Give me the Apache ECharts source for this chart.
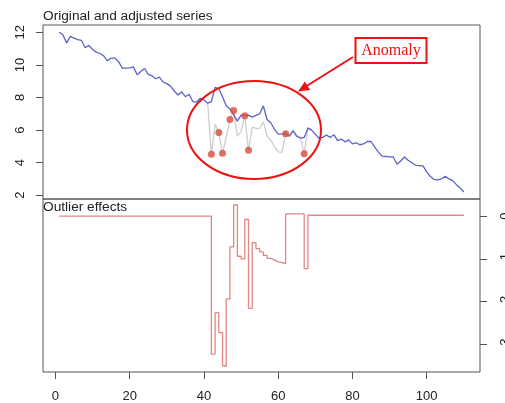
<!DOCTYPE html>
<html>
<head>
<meta charset="utf-8">
<script src="https://cdn.jsdelivr.net/npm/echarts@6.0.0/dist/echarts.min.js"></script>
<style>
html, body { margin: 0; padding: 0; background: #fff; }
#chart { width: 505px; height: 403px; }
</style>
</head>
<body>
<div id="chart"></div>
<script>
// adjusted series, t = 1..110
var adjusted = [
  12.0, 11.85, 11.35, 11.75, 11.65, 11.55, 11.5, 11.05, 11.2, 10.95,
  10.78, 10.7, 10.55, 10.25, 10.42, 10.42, 10.2, 9.8, 9.8, 9.82,
  9.88, 9.4, 9.6, 9.78, 9.42, 9.33, 9.15, 9.25, 8.95, 8.85,
  8.7, 8.4, 8.15, 8.35, 8.05, 8.2, 7.75, 7.72, 7.95, 7.85,
  7.65, 7.75, 8.62, 8.55, 8.05, 7.5, 7.3, 6.95, 6.55, 6.92,
  6.9, 6.92, 6.8, 6.9, 7.0, 7.48, 6.65, 6.45, 6.05, 5.75,
  5.75, 5.8, 5.62, 5.95, 5.62, 5.5, 5.55, 6.12, 6.0, 5.75,
  5.5, 5.55, 5.7, 5.55, 5.72, 5.35, 5.45, 5.28, 5.4, 5.15,
  5.22, 5.1, 5.15, 5.3, 5.3, 4.95, 4.65, 4.4, 4.38, 4.35,
  4.35, 3.9, 4.1, 4.35, 4.15, 4.0, 3.84, 3.82, 3.8, 3.43,
  3.15, 2.97, 2.95, 3.0, 3.17, 3.0, 2.9, 2.65, 2.45, 2.2
];
// original series where it differs from the adjusted one, t = 41..69
var originalStart = 41;
var original = [
  7.65, 4.52, 6.35, 5.85, 4.58, 5.56, 6.65, 7.2, 5.62, 5.92,
  6.88, 4.76, 6.18, 6.1, 6.1, 6.5, 5.62, 5.38, 4.98, 4.66,
  4.64, 5.78, 5.67, 6.0, 5.67, 5.55, 4.55, 6.15, 6.0
];
var outlierTimes = [42, 44, 45, 47, 48, 51, 52, 62, 67];
// outlier effects, t = 1..110
var effects = [
  0, 0, 0, 0, 0, 0, 0, 0, 0, 0,
  0, 0, 0, 0, 0, 0, 0, 0, 0, 0,
  0, 0, 0, 0, 0, 0, 0, 0, 0, 0,
  0, 0, 0, 0, 0, 0, 0, 0, 0, 0,
  0, -3.23, -2.26, -2.73, -3.51, -1.94, -0.72, 0.26, -0.94, -1.0,
  -0.08, -2.16, -0.62, -0.76, -0.84, -0.92, -0.99, -1.03, -1.07, -1.09,
  -1.11, 0.05, 0.05, 0.05, 0.05, 0.05, -1.23, 0.02, 0.02, 0.02,
  0.02, 0.02, 0.02, 0.02, 0.02, 0.02, 0.02, 0.02, 0.02, 0.02,
  0.02, 0.02, 0.02, 0.02, 0.02, 0.02, 0.02, 0.02, 0.02, 0.02,
  0.02, 0.02, 0.02, 0.02, 0.02, 0.02, 0.02, 0.02, 0.02, 0.02,
  0.02, 0.02, 0.02, 0.02, 0.02, 0.02, 0.02, 0.02, 0.02, 0.02
];
var xTicks = [0, 20, 40, 60, 80, 100];
var yTicksTop = [2, 4, 6, 8, 10, 12];
var yTicksBottom = [0, -1, -2, -3];

var font = 'Liberation Sans';
var labelColor = '#222';

var adjustedData = adjusted.map(function (v, i) { return [i + 1, v]; });
var originalData = original.map(function (v, i) { return [originalStart + i, v]; });
var outlierData = outlierTimes.map(function (t) { return [t, original[t - originalStart]]; });
var effectsData = effects.map(function (v, i) { return [i + 1, v]; });

var myChart = echarts.init(document.getElementById('chart'));

var option = {
  animation: false,
  backgroundColor: '#fff',
  title: [
    {
      text: 'Original and adjusted series',
      left: 43, top: 9, padding: 0,
      textStyle: { fontSize: 13.7, fontWeight: 'normal', color: labelColor, fontFamily: font }
    },
    {
      text: 'Outlier effects',
      left: 43, top: 200, padding: 0,
      textStyle: { fontSize: 13.7, fontWeight: 'normal', color: labelColor, fontFamily: font }
    }
  ],
  grid: [
    { left: 43, top: 25, width: 437, height: 174, outerBoundsMode: 'none', containLabel: false,
      show: true, borderColor: '#555', borderWidth: 1, backgroundColor: 'transparent' },
    { left: 43, top: 199, width: 437, height: 173, outerBoundsMode: 'none', containLabel: false,
      show: true, borderColor: '#555', borderWidth: 1, backgroundColor: 'transparent' }
  ],
  xAxis: [
    {
      gridIndex: 0, type: 'value', min: -3.36, max: 114.36, position: 'bottom',
      axisLine: { show: false, onZero: false }, axisTick: { show: false },
      axisLabel: { show: false }, splitLine: { show: false }
    },
    {
      gridIndex: 1, type: 'value', min: -3.36, max: 114.36, position: 'bottom',
      axisLine: { show: false, onZero: false },
      axisTick: { show: true, customValues: xTicks, length: 7, lineStyle: { color: '#555' } },
      axisLabel: { customValues: xTicks, margin: 18, fontSize: 13, color: labelColor, fontFamily: font },
      splitLine: { show: false }
    }
  ],
  yAxis: [
    {
      gridIndex: 0, type: 'value', position: 'left', min: 1.77, max: 12.45,
      axisLine: { show: false, onZero: false },
      axisTick: { show: true, customValues: yTicksTop, length: 7, lineStyle: { color: '#555' } },
      axisLabel: { customValues: yTicksTop, rotate: 90, margin: 16, fontSize: 13, color: labelColor, fontFamily: font },
      splitLine: { show: false }
    },
    {
      gridIndex: 1, type: 'value', position: 'right', min: -3.65, max: 0.40,
      axisLine: { show: false, onZero: false },
      axisTick: { show: true, customValues: yTicksBottom, length: 7, lineStyle: { color: '#555' } },
      axisLabel: { customValues: yTicksBottom, rotate: 90, margin: 19, fontSize: 13, color: labelColor, fontFamily: font },
      splitLine: { show: false }
    }
  ],
  series: [
    {
      name: 'original', type: 'line', xAxisIndex: 0, yAxisIndex: 0,
      data: originalData, showSymbol: false, z: 1,
      lineStyle: { color: '#cdcdcd', width: 1.3 }
    },
    {
      name: 'adjusted', type: 'line', xAxisIndex: 0, yAxisIndex: 0,
      data: adjustedData, showSymbol: false, z: 2,
      lineStyle: { color: '#5c63c8', width: 1.3 }
    },
    {
      name: 'outliers', type: 'scatter', xAxisIndex: 0, yAxisIndex: 0,
      data: outlierData, symbolSize: 7, z: 3,
      itemStyle: { color: '#dc4a3c' }
    },
    {
      name: 'effects', type: 'line', xAxisIndex: 1, yAxisIndex: 1,
      data: effectsData, step: 'end', showSymbol: false,
      lineStyle: { color: '#e48585', width: 1.3 }
    }
  ],
  graphic: [
    {
      type: 'ellipse', shape: { cx: 254, cy: 130, rx: 67, ry: 49 }, z: 10,
      style: { fill: 'none', stroke: '#ee1111', lineWidth: 2 }
    },
    {
      type: 'line', shape: { x1: 353, y1: 57, x2: 305, y2: 87 }, z: 10,
      style: { stroke: '#ee1111', lineWidth: 2 }
    },
    {
      type: 'polygon', z: 10,
      shape: { points: [[298, 91.5], [310.2, 89.9], [304.8, 81.5]] },
      style: { fill: '#ee1111' }
    },
    {
      type: 'rect', shape: { x: 355.5, y: 38, width: 71, height: 25 }, z: 10,
      style: { fill: '#fff', stroke: '#ee1111', lineWidth: 2 }
    },
    {
      type: 'text', x: 391, y: 50.5, z: 11,
      style: {
        text: 'Anomaly', fill: '#ee1111', font: '16px "Liberation Serif"',
        textAlign: 'center', textVerticalAlign: 'middle'
      }
    }
  ]
};

myChart.setOption(option);
</script>
</body>
</html>
